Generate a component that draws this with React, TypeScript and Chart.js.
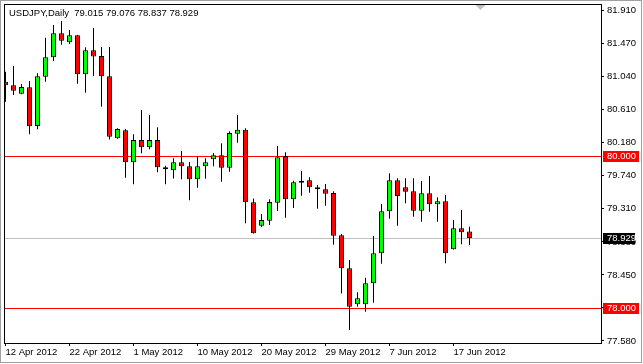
import React, { useEffect, useRef } from "react";
import { Chart, registerables } from "chart.js";

Chart.register(...registerables);

// ---- data (USDJPY daily candles) ----
const opens = [
  80.979, 80.932, 80.822, 80.906, 80.400, 81.045, 81.299, 81.614, 81.496, 81.587,
  81.076, 81.391, 81.316, 81.050, 80.237, 80.342, 79.923, 80.215, 80.119, 80.215,
  79.833, 79.819, 79.923, 79.870, 79.700, 79.870, 79.962, 80.014, 79.852, 80.297,
  80.350, 79.398, 79.091, 79.157, 79.393, 80.005, 79.437, 79.653, 79.687, 79.595,
  79.569, 79.520, 78.966, 78.533, 78.061, 78.061, 78.336, 78.730, 79.280, 79.687,
  79.595, 79.542, 79.288, 79.516, 79.372, 79.411, 78.782, 79.057, 79.015,
];
const highs = [
  81.110, 81.185, 80.949, 80.988, 81.089, 81.556, 81.723, 81.775, 81.657, 81.590,
  81.430, 81.683, 81.434, 81.434, 80.368, 80.359, 80.290, 80.608, 80.543, 80.381,
  79.878, 79.975, 80.071, 79.926, 80.005, 79.975, 80.044, 80.172, 80.329, 80.543,
  80.368, 79.448, 79.245, 79.437, 80.136, 80.054, 79.681, 79.808, 79.726, 79.625,
  79.638, 79.542, 78.983, 78.642, 78.218, 78.410, 78.956, 79.376, 79.778, 79.713,
  79.713, 79.713, 79.677, 79.743, 79.464, 79.494, 79.166, 79.297, 79.076,
];
const lows = [
  80.717, 80.805, 80.815, 80.290, 80.355, 80.979, 81.251, 81.464, 81.473, 80.953,
  80.835, 81.054, 80.651, 80.221, 80.232, 79.721, 79.634, 80.041, 80.093, 79.791,
  79.634, 79.710, 79.700, 79.424, 79.590, 79.708, 79.870, 79.668, 79.799, 80.179,
  79.123, 78.990, 79.074, 79.101, 79.284, 79.196, 79.323, 79.485, 79.524, 79.314,
  79.354, 78.842, 78.202, 77.724, 78.029, 77.964, 78.082, 78.593, 79.183, 79.091,
  79.385, 79.209, 79.144, 79.275, 79.144, 78.598, 78.780, 78.848, 78.837,
];
const closes = [
  80.932, 80.861, 80.910, 80.394, 81.050, 81.299, 81.614, 81.517, 81.587, 81.076,
  81.391, 81.310, 81.050, 80.258, 80.359, 79.923, 80.215, 80.119, 80.215, 79.857,
  79.830, 79.923, 79.870, 79.700, 79.870, 79.923, 80.014, 79.852, 80.307, 80.350,
  79.398, 78.992, 79.166, 79.402, 79.988, 79.437, 79.660, 79.658, 79.595, 79.569,
  79.511, 78.960, 78.533, 78.029, 78.140, 78.336, 78.730, 79.280, 79.687, 79.481,
  79.537, 79.288, 79.516, 79.372, 79.411, 78.730, 79.057, 79.005, 78.929,
];

const xTickIndex = [0, 8, 16, 24, 32, 40, 48, 56];
const xTickLabels = [
  "12 Apr 2012", "22 Apr 2012", "1 May 2012", "10 May 2012",
  "20 May 2012", "29 May 2012", "7 Jun 2012", "17 Jun 2012",
];
const yTickLabels = [
  "81.910", "81.470", "81.040", "80.610", "80.180", "79.740",
  "79.310", "78.880", "78.450", "78.020", "77.580",
];
const levelLines = [80.0, 78.0];
const levelLabels = ["80.000", "78.000"];
const lastPrice = 78.929;
const lastPriceLabel = "78.929";
const titleText = "USDJPY,Daily  79.015 79.076 78.837 78.929";
const shiftMarkerIndex = 59.375;

const FONT_FAMILY = "'Liberation Sans', Arial, sans-serif";
const FONT_SIZE = 9.5;

export default function App() {
  const ref = useRef<HTMLCanvasElement>(null);

  useEffect(() => {
    const canvas = ref.current;
    if (!canvas) return;
    const idx = closes.map((_, i) => i);
    const up = idx.map((i) => closes[i] >= opens[i]);

    const yTop = parseFloat(yTickLabels[0]);
    const yBot = parseFloat(yTickLabels[yTickLabels.length - 1]);
    const yStep = (yTop - yBot) / (yTickLabels.length - 1);
    const yTickValues = yTickLabels.map((_, k) => yTop - k * yStep);
    const yAsc = [...yTickValues].reverse();
    const yAscLabels = [...yTickLabels].reverse();

    const font = `${FONT_SIZE}px ${FONT_FAMILY}`;

    const overlay = {
      id: "overlay",
      beforeDatasetsDraw(chart: any) {
        const { ctx, chartArea: a, scales } = chart;
        const y = scales.y;
        ctx.save();
        ctx.lineWidth = 1;
        const hline = (v: number, color: string) => {
          const py = Math.floor(y.getPixelForValue(v)) + 0.5;
          ctx.strokeStyle = color;
          ctx.beginPath();
          ctx.moveTo(a.left, py);
          ctx.lineTo(a.right, py);
          ctx.stroke();
        };
        hline(lastPrice, "#c0c0c0");
        levelLines.forEach((v) => hline(v, "#ff0000"));
        ctx.restore();
      },
      afterDraw(chart: any) {
        const { ctx, chartArea: a, scales, width, height } = chart;
        const y = scales.y;
        const x = scales.x;
        ctx.save();
        // plot frame
        ctx.strokeStyle = "#000";
        ctx.lineWidth = 1;
        ctx.strokeRect(a.left - 0.5, a.top - 0.5, a.right - a.left + 1, a.bottom - a.top + 1);
        // window border
        ctx.strokeStyle = "#a0a0a0";
        ctx.strokeRect(0.5, 0.5, width - 2, height - 2);

        // shift marker triangle
        const tx = Math.floor(x.getPixelForValue(shiftMarkerIndex)) + 0.5;
        ctx.fillStyle = "#c0c0c0";
        ctx.beginPath();
        ctx.moveTo(tx - 5, a.top);
        ctx.lineTo(tx + 5, a.top);
        ctx.lineTo(tx, a.top + 5);
        ctx.closePath();
        ctx.fill();

        // price tags
        ctx.font = font;
        ctx.textBaseline = "middle";
        ctx.textAlign = "left";
        const tag = (v: number, label: string, bg: string, w: number) => {
          const py = Math.floor(y.getPixelForValue(v));
          ctx.fillStyle = bg;
          ctx.fillRect(a.right + 2, py - 5, w, 11);
          ctx.fillStyle = "#fff";
          ctx.fillText(label, a.right + 6, py + 0.5);
        };
        levelLines.forEach((v, k) => tag(v, levelLabels[k], "#ff0000", 36));
        tag(lastPrice, lastPriceLabel, "#000000", 32);

        // title
        ctx.fillStyle = "#000";
        ctx.fillText(titleText, 9, 13);
        ctx.restore();
      },
    };

    const chart = new Chart(canvas, {
      type: "bar",
      data: {
        datasets: [
          {
            label: "body",
            data: idx.map((i) => ({ x: i, y: [opens[i], closes[i]] })) as any,
            backgroundColor: idx.map((i) => (up[i] ? "#00ff00" : "#ff0000")),
            borderColor: "#000000",
            borderWidth: 1,
            borderSkipped: false,
            barThickness: 5,
            minBarLength: 2,
            inflateAmount: 0,
            grouped: false,
            order: 0,
            clip: 0,
          } as any,
          {
            label: "wick",
            data: idx.map((i) => ({ x: i, y: [lows[i], highs[i]] })) as any,
            backgroundColor: "#000000",
            borderWidth: 0,
            barThickness: 1,
            inflateAmount: 0,
            grouped: false,
            order: 1,
            clip: 0,
          } as any,
        ],
      },
      options: {
        responsive: false,
        animation: false,
        events: [],
        layout: { padding: { left: 5, top: 5, right: 0, bottom: 0 } },
        plugins: {
          legend: { display: false },
          tooltip: { enabled: false },
          title: { display: false },
        },
        scales: {
          x: {
            type: "linear",
            min: -0.0625,
            max: 74.4375,
            offset: false,
            grid: {
              offset: false,
              drawOnChartArea: false,
              drawTicks: true,
              tickLength: 3,
              color: "#000000",
              lineWidth: 1,
            },
            border: { display: false },
            ticks: {
              autoSkip: false,
              maxRotation: 0,
              minRotation: 0,
              align: "start",
              padding: 1,
              color: "#000000",
              font: { family: FONT_FAMILY, size: FONT_SIZE },
              callback: (v: any) => {
                const k = xTickIndex.indexOf(Number(v));
                return k >= 0 ? xTickLabels[k] : "";
              },
            },
            afterBuildTicks: (s: any) => {
              s.ticks = xTickIndex.map((v) => ({ value: v }));
            },
            afterFit: (s: any) => {
              s.height = 21;
              s.paddingLeft = 0;
              s.paddingRight = 0;
            },
          } as any,
          y: {
            type: "linear",
            position: "right",
            min: 77.5536,
            max: 81.9847,
            beginAtZero: false,
            grid: {
              drawOnChartArea: false,
              drawTicks: true,
              tickLength: 3,
              color: "#000000",
              lineWidth: 1,
            },
            border: { display: false },
            ticks: {
              autoSkip: false,
              padding: 3,
              color: "#000000",
              font: { family: FONT_FAMILY, size: FONT_SIZE },
              callback: (_v: any, i: number) => yAscLabels[i] ?? "",
            },
            afterBuildTicks: (s: any) => {
              s.ticks = yAsc.map((v) => ({ value: v }));
            },
            afterFit: (s: any) => {
              s.width = 42;
              s.paddingTop = 0;
              s.paddingBottom = 0;
            },
          } as any,
        },
      },
      plugins: [overlay],
    });

    return () => chart.destroy();
  }, []);

  return (
    <div
      style={{
        position: "fixed",
        left: 0,
        top: 0,
        width: 643,
        height: 364,
        background: "#ffffff",
      }}
    >
      <canvas
        ref={ref}
        width={643}
        height={364}
        style={{ display: "block", width: 643, height: 364 }}
      />
    </div>
  );
}
